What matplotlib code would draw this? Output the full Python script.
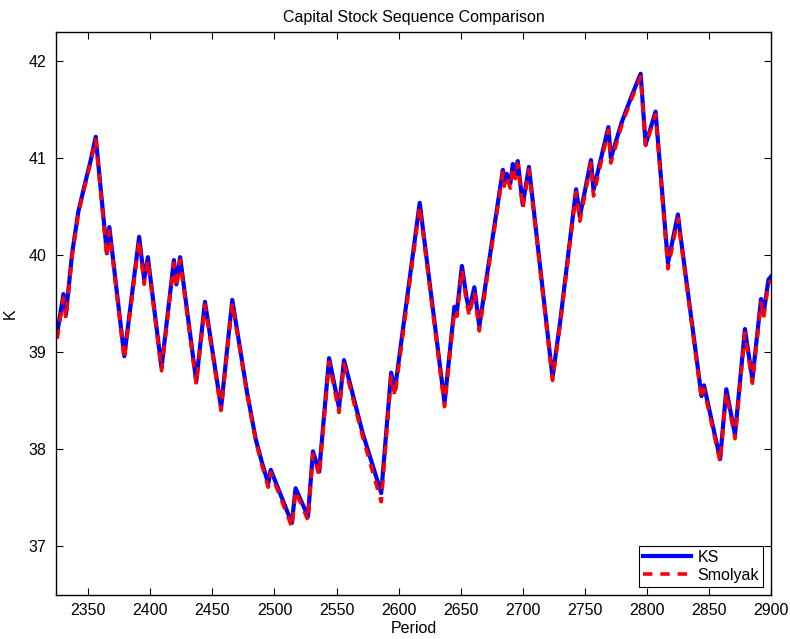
import matplotlib
matplotlib.use('Agg')
import matplotlib.pyplot as plt

plt.rcParams['font.family'] = ['Liberation Sans', 'DejaVu Sans']
plt.rcParams['font.size'] = 11.5

# periods and capital stock
period = [2325, 2330, 2332, 2337, 2342, 2347, 2352, 2356, 2365, 2367, 2379,
          2391, 2395, 2398, 2409, 2419, 2421, 2424, 2437, 2444, 2457, 2466,
          2478, 2485, 2490, 2495, 2497, 2514, 2517, 2527, 2531, 2536, 2544,
          2552, 2556, 2571, 2586, 2594, 2597, 2617, 2637, 2645, 2647, 2651,
          2655, 2657, 2661, 2665, 2684, 2685, 2687, 2690, 2692, 2694, 2696,
          2700, 2705, 2724, 2730, 2743, 2746, 2755, 2757, 2769, 2771, 2780,
          2788, 2795, 2799, 2807, 2817, 2825, 2827, 2844, 2846, 2859, 2864,
          2871, 2879, 2885, 2892, 2894, 2898, 2900]
ks = [39.20, 39.60, 39.39, 40.02, 40.45, 40.72, 40.98, 41.22, 40.02, 40.29,
      38.96, 40.19, 39.75, 39.98, 38.84, 39.95, 39.70, 39.98, 38.70, 39.52,
      38.43, 39.54, 38.58, 38.10, 37.86, 37.65, 37.79, 37.24, 37.60, 37.31,
      37.98, 37.77, 38.94, 38.43, 38.92, 38.17, 37.55, 38.79, 38.61, 40.54,
      38.48, 39.47, 39.42, 39.89, 39.54, 39.44, 39.67, 39.27, 40.88, 40.76,
      40.84, 40.74, 40.94, 40.83, 40.97, 40.52, 40.91, 38.74, 39.30, 40.68,
      40.40, 40.98, 40.67, 41.32, 41.00, 41.38, 41.65, 41.87, 41.14, 41.48,
      39.92, 40.42, 40.21, 38.55, 38.66, 37.90, 38.62, 38.15, 39.24, 38.72,
      39.55, 39.40, 39.75, 39.78]
smolyak = [39.14, 39.56, 39.35, 39.99, 40.43, 40.70, 40.96, 41.19, 39.98, 40.25,
           38.93, 40.15, 39.70, 39.95, 38.81, 39.92, 39.67, 39.95, 38.67, 39.49,
           38.40, 39.51, 38.56, 38.08, 37.83, 37.61, 37.76, 37.20, 37.57, 37.27,
           37.95, 37.73, 38.90, 38.38, 38.88, 38.13, 37.46, 38.75, 38.55, 40.50,
           38.44, 39.43, 39.37, 39.85, 39.49, 39.38, 39.62, 39.22, 40.85, 40.71,
           40.81, 40.69, 40.91, 40.79, 40.94, 40.48, 40.88, 38.71, 39.27, 40.65,
           40.35, 40.95, 40.61, 41.29, 40.95, 41.35, 41.62, 41.84, 41.13, 41.45,
           39.86, 40.38, 40.18, 38.52, 38.62, 37.87, 38.58, 38.11, 39.20, 38.68,
           39.51, 39.35, 39.71, 39.74]

fig = plt.figure(figsize=(7.9, 6.39), dpi=100)
ax = fig.add_axes([56 / 790, 1 - 595 / 639, (771 - 56) / 790, (595 - 32) / 639])

ax.plot(period, ks, c='blue', lw=3, label='KS')
ax.plot(period, smolyak, c='red', lw=2.6, ls=(0, (2.6, 2.2)), label='Smolyak')

ax.set_xlim(2324, 2900)
ax.set_ylim(36.5, 42.3)
ax.set_xticks(range(2350, 2901, 50))
ax.set_yticks(range(37, 43))
ax.tick_params(direction='in', top=True, right=True, length=5, width=0.8)
ax.tick_params(axis='x', pad=6)
ax.tick_params(axis='y', pad=7)
for s in ax.spines.values():
    s.set_linewidth(1)

ax.set_title('Capital Stock Sequence Comparison', fontsize=11.5, pad=7)
ax.set_xlabel('Period', labelpad=2)
ax.set_ylabel('K', labelpad=8)

leg = ax.legend(loc='lower right', fancybox=False, framealpha=1,
                edgecolor='black', handlelength=3.0, borderaxespad=0.5,
                borderpad=0.25, labelspacing=0.2, handletextpad=0.4)
leg.get_frame().set_linewidth(0.8)

fig.savefig('out.png', dpi=100)
